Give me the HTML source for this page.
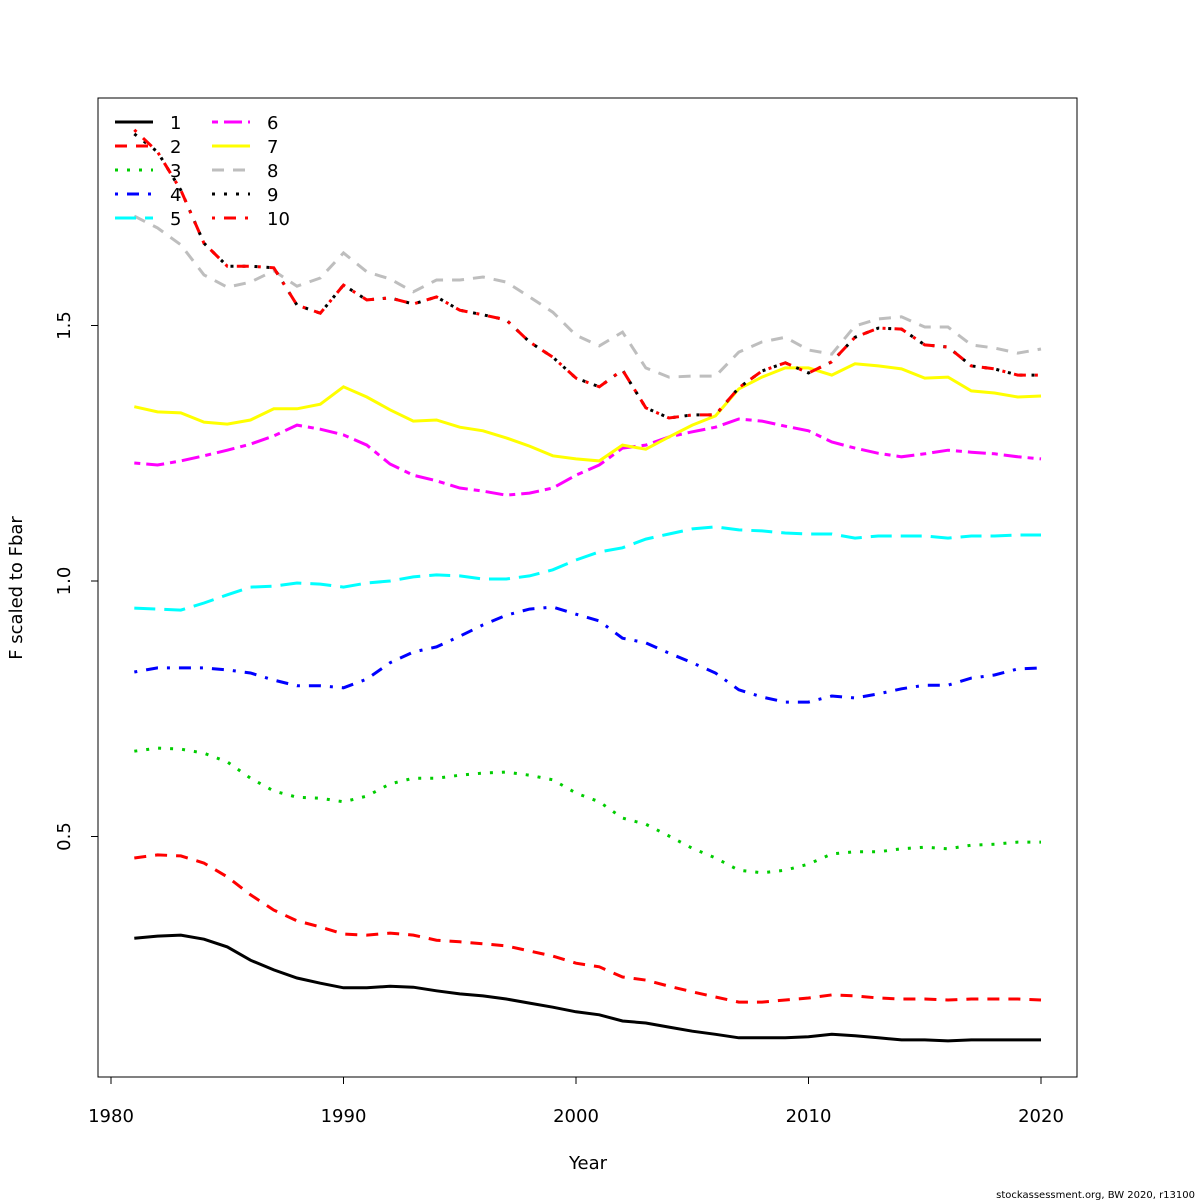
<!DOCTYPE html>
<html><head><meta charset="utf-8"><style>
body{margin:0;background:#fff}
svg{display:block;font-family:"DejaVu Sans","Liberation Sans",sans-serif}
</style></head><body>
<svg id="chart" width="1200" height="1200" viewBox="0 0 1200 1200">
<rect x="98" y="98" width="979" height="979" fill="none" stroke="#000" stroke-width="1"/>
<g id="xaxis"></g>
<g id="yaxis"></g>
<g id="series"></g>
<g id="legend"></g>
<text x="588" y="1169" font-size="18" text-anchor="middle">Year</text>
<text x="22" y="588" font-size="18" text-anchor="middle" transform="rotate(-90 22 588)">F scaled to Fbar</text>
<text x="1195" y="1198" font-size="10" text-anchor="end">stockassessment.org, BW  2020, r13100</text>
</svg>
<script>
const years = Array.from({length:40},(_,i)=>1981+i);
const xTicks = [1980,1990,2000,2010,2020];
const yTicks = [0.5,1.0,1.5];
const yTickLabels = ["0.5","1.0","1.5"];
const s1 = [0.301,0.305,0.307,0.299,0.284,0.258,0.239,0.223,0.213,0.204,0.204,0.207,0.205,0.198,0.192,0.188,0.182,0.174,0.166,0.157,0.151,0.139,0.135,0.127,0.119,0.113,0.106,0.106,0.106,0.108,0.113,0.110,0.106,0.102,0.102,0.100,0.102,0.102,0.102,0.102];
const s2 = [0.458,0.464,0.462,0.448,0.421,0.386,0.356,0.335,0.323,0.309,0.307,0.311,0.307,0.297,0.294,0.290,0.286,0.276,0.266,0.252,0.245,0.225,0.219,0.207,0.196,0.186,0.176,0.176,0.180,0.184,0.190,0.188,0.184,0.182,0.182,0.180,0.182,0.182,0.182,0.180];
const s3 = [0.667,0.673,0.671,0.663,0.646,0.614,0.589,0.577,0.575,0.568,0.579,0.603,0.614,0.614,0.620,0.624,0.626,0.620,0.611,0.585,0.568,0.536,0.524,0.501,0.477,0.458,0.434,0.429,0.434,0.446,0.466,0.470,0.470,0.476,0.479,0.476,0.483,0.485,0.489,0.489];
const s4 = [0.822,0.830,0.830,0.830,0.826,0.820,0.806,0.795,0.795,0.791,0.808,0.840,0.861,0.871,0.892,0.914,0.933,0.945,0.949,0.935,0.922,0.888,0.879,0.859,0.840,0.820,0.787,0.773,0.763,0.763,0.775,0.771,0.779,0.789,0.796,0.796,0.810,0.816,0.828,0.830];
const s5 = [0.947,0.945,0.943,0.957,0.973,0.988,0.990,0.996,0.994,0.988,0.996,1.000,1.008,1.012,1.010,1.004,1.004,1.010,1.022,1.041,1.057,1.065,1.082,1.092,1.102,1.106,1.100,1.098,1.094,1.092,1.092,1.084,1.088,1.088,1.088,1.084,1.088,1.088,1.090,1.090];
const s6 = [1.231,1.227,1.235,1.245,1.256,1.268,1.284,1.305,1.297,1.286,1.266,1.229,1.207,1.196,1.182,1.176,1.168,1.172,1.182,1.207,1.227,1.260,1.266,1.282,1.292,1.301,1.317,1.313,1.303,1.294,1.272,1.260,1.250,1.243,1.249,1.256,1.252,1.249,1.243,1.239];
const s7 = [1.341,1.331,1.329,1.311,1.307,1.315,1.337,1.337,1.346,1.380,1.360,1.335,1.313,1.315,1.301,1.294,1.280,1.264,1.245,1.239,1.235,1.266,1.258,1.282,1.305,1.323,1.376,1.399,1.417,1.417,1.403,1.425,1.421,1.415,1.397,1.399,1.372,1.368,1.360,1.362];
const s8 = [1.714,1.691,1.658,1.599,1.575,1.585,1.607,1.577,1.593,1.642,1.605,1.591,1.566,1.589,1.589,1.595,1.585,1.556,1.526,1.481,1.460,1.487,1.417,1.399,1.401,1.401,1.448,1.468,1.477,1.452,1.444,1.499,1.513,1.517,1.497,1.497,1.462,1.456,1.446,1.454];
const s9 = [1.875,1.840,1.765,1.661,1.616,1.616,1.613,1.540,1.524,1.579,1.550,1.554,1.542,1.556,1.530,1.521,1.511,1.468,1.438,1.397,1.380,1.413,1.339,1.319,1.325,1.325,1.378,1.411,1.427,1.407,1.429,1.477,1.495,1.493,1.462,1.458,1.421,1.415,1.403,1.403];
const s10 = [1.883,1.840,1.765,1.661,1.616,1.616,1.613,1.540,1.524,1.579,1.550,1.554,1.542,1.556,1.530,1.521,1.511,1.468,1.438,1.397,1.380,1.413,1.339,1.319,1.325,1.325,1.378,1.411,1.427,1.407,1.429,1.477,1.495,1.493,1.462,1.458,1.421,1.415,1.403,1.403];
const seriesNames = ["1","2","3","4","5","6","7","8","9","10"];
const allSeries = [s1,s2,s3,s4,s5,s6,s7,s8,s9,s10];
const colors = ["#000","#ff0000","#00cd00","#0000ff","#00ffff","#ff00ff","#ffff00","#bebebe","#000","#ff0000"];
const dashes = ["", "12 9", "3 9", "3 9 12 9", "21 9", "6 6 18 6", "", "12 9", "3 9", "3 9 12 9"];

const NS="http://www.w3.org/2000/svg";
const xS = y => 111 + (y-1980)*23.25;
const yS = v => 581 - (v-1)*511;
function mk(tag, attrs, parent){const e=document.createElementNS(NS,tag);for(const k in attrs)e.setAttribute(k,attrs[k]);parent.appendChild(e);return e;}

const xa=document.getElementById('xaxis');
mk('line',{x1:xS(xTicks[0]),x2:xS(xTicks[xTicks.length-1]),y1:1077,y2:1077,stroke:'#000'},xa);
xTicks.forEach(t=>{
  const l=mk('line',{x1:xS(t),x2:xS(t),y1:1077,y2:1084,stroke:'#000'},xa);
  
  
  const tx=mk('text',{x:xS(t),y:1122,'font-size':18,'text-anchor':'middle'},xa);
  tx.textContent=t;
  
  
});
const ya=document.getElementById('yaxis');
mk('line',{x1:98,x2:98,y1:yS(yTicks[0]),y2:yS(yTicks[yTicks.length-1]),stroke:'#000'},ya);
yTicks.forEach((t,i)=>{
  const l=mk('line',{x1:91,x2:98,y1:yS(t),y2:yS(t),stroke:'#000'},ya);
  
  
  const tx=mk('text',{x:70,y:yS(t),'font-size':18,'text-anchor':'middle',transform:`rotate(-90 70 ${yS(t)})`},ya);
  tx.textContent=yTickLabels[i];
  
  
});
const sg=document.getElementById('series');
allSeries.forEach((s,i)=>{
  const d=s.map((v,j)=>(j?'L':'M')+xS(years[j]).toFixed(1)+' '+yS(v).toFixed(1)).join(' ');
  const p=mk('path',{d:d,fill:'none',stroke:colors[i],'stroke-width':3,'stroke-dasharray':dashes[i]},sg);
  
  
});
const lg=document.getElementById('legend');
seriesNames.forEach((n,i)=>{
  const col=Math.floor(i/5), row=i%5;
  const x0=115+col*97, y0=122+row*24;
  const g=mk('g',{},lg);
  
  
  mk('line',{x1:x0,x2:x0+38,y1:y0,y2:y0,stroke:colors[i],'stroke-width':3,'stroke-dasharray':dashes[i]},g);
  const t=mk('text',{x:x0+55,y:y0+7,'font-size':18},g);
  t.textContent=n;
});
</script>
</body></html>
